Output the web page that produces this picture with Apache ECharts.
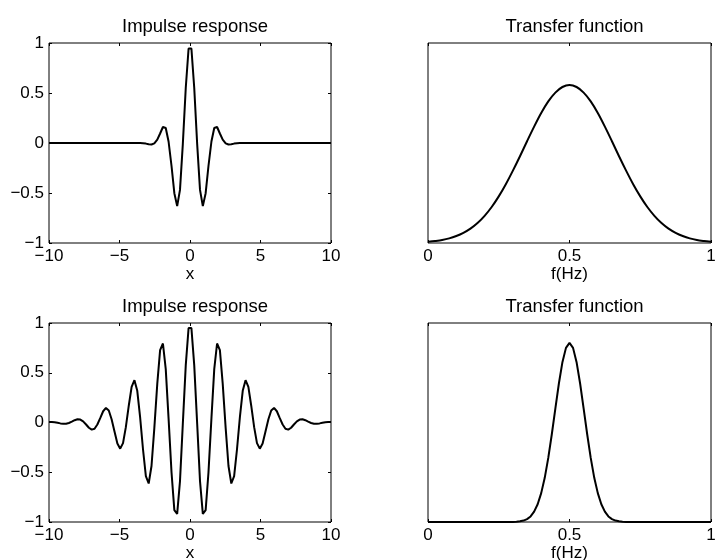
<!DOCTYPE html>
<html><head><meta charset="utf-8">
<script src="https://cdn.jsdelivr.net/npm/echarts@6/dist/echarts.min.js"></script>
<style>html,body{margin:0;padding:0;background:#fff}#c{width:715px;height:560px}</style>
</head><body><div id="c"></div>
<script>
// ---- data ----
const impX = [-10.00,-9.80,-9.60,-9.39,-9.19,-8.99,-8.79,-8.59,-8.38,-8.18,-7.98,-7.78,-7.58,-7.37,-7.17,-6.97,-6.77,-6.57,-6.36,-6.16,-5.96,-5.76,-5.56,-5.35,-5.15,-4.95,-4.75,-4.55,-4.34,-4.14,-3.94,-3.74,-3.54,-3.33,-3.13,-2.93,-2.73,-2.53,-2.32,-2.12,-1.92,-1.72,-1.52,-1.31,-1.11,-0.91,-0.71,-0.51,-0.30,-0.10,
  0.10,0.30,0.51,0.71,0.91,1.11,1.31,1.52,1.72,1.92,2.12,2.32,2.53,2.73,2.93,3.13,3.33,3.54,3.74,3.94,4.14,4.34,4.55,4.75,4.95,5.15,5.35,5.56,5.76,5.96,6.16,6.36,6.57,6.77,6.97,7.17,7.37,7.58,7.78,7.98,8.18,8.38,8.59,8.79,8.99,9.19,9.39,9.60,9.80,10.00];

const impTopY = [0,0,0,0,0,0,0,0,0,0,0,0,0,0,0,0,0,0,0,0,0,0,0,0,0,0,0,0,0,0,0,0,0,
  -0.002,-0.006,-0.013,-0.015,-0.003,0.034,0.095,0.16,0.15,0.015,-0.230,-0.502,-0.631,-0.469,-0.014,0.553,0.945,
  0.945,0.553,-0.014,-0.469,-0.631,-0.502,-0.230,0.015,0.15,0.16,0.095,0.034,-0.003,-0.015,-0.013,-0.006,-0.002,
  0,0,0,0,0,0,0,0,0,0,0,0,0,0,0,0,0,0,0,0,0,0,0,0,0,0,0,0,0,0,0,0,0];

const impBotY = [0.004,0.004,0.002,-0.003,-0.009,-0.013,-0.012,-0.005,0.008,0.023,0.032,0.029,0.011,-0.020,-0.053,-0.072,-0.063,-0.020,0.046,0.113,0.146,0.121,0.033,-0.094,-0.211,-0.263,-0.207,-0.047,0.171,0.358,0.425,0.318,0.056,-0.274,-0.540,-0.613,-0.437,-0.056,0.391,0.728,0.794,0.537,0.042,-0.503,-0.880,-0.918,-0.589,-0.016,0.577,0.950,
  0.950,0.577,-0.016,-0.589,-0.918,-0.880,-0.503,0.042,0.537,0.794,0.728,0.391,-0.056,-0.437,-0.613,-0.540,-0.274,0.056,0.318,0.425,0.358,0.171,-0.047,-0.207,-0.263,-0.211,-0.094,0.033,0.121,0.146,0.113,0.046,-0.020,-0.063,-0.072,-0.053,-0.020,0.011,0.029,0.032,0.023,0.008,-0.005,-0.012,-0.013,-0.009,-0.003,0.002,0.004,0.004];

const tfTopF = [0,0.025,0.05,0.075,0.1,0.125,0.15,0.175,0.2,0.225,0.25,0.275,0.3,0.325,0.35,0.375,0.4,0.425,0.45,0.475,0.5,
  0.525,0.55,0.575,0.6,0.625,0.65,0.675,0.7,0.725,0.75,0.775,0.8,0.825,0.85,0.875,0.9,0.925,0.95,0.975,1];
const tfTopH = [0.006,0.010,0.015,0.023,0.035,0.051,0.072,0.100,0.136,0.180,0.233,0.294,0.362,0.434,0.509,0.582,0.650,0.708,0.752,0.780,0.790,
  0.780,0.752,0.708,0.650,0.582,0.509,0.434,0.362,0.294,0.233,0.180,0.136,0.100,0.072,0.051,0.035,0.023,0.015,0.010,0.006];

const tfBotF = [0,0.1,0.2,0.25,0.3,0.3125,0.325,0.3375,0.35,0.3625,0.375,0.3875,0.4,0.4125,0.425,0.4375,0.45,0.4625,0.475,0.4875,0.5,
  0.5125,0.525,0.5375,0.55,0.5625,0.575,0.5875,0.6,0.6125,0.625,0.6375,0.65,0.6625,0.675,0.6875,0.7,0.75,0.8,0.9,1];
const tfBotH = [0,0,0,0,0.0006,0.0015,0.0033,0.0072,0.0147,0.028,0.052,0.089,0.145,0.222,0.322,0.441,0.570,0.696,0.803,0.875,0.900,
  0.875,0.803,0.696,0.570,0.441,0.322,0.222,0.145,0.089,0.052,0.028,0.0147,0.0072,0.0033,0.0015,0.0006,0,0,0,0];

const titles = ['Impulse response','Transfer function','Impulse response','Transfer function'];
const xNames = ['x','f(Hz)','x','f(Hz)'];
const impTickLabels = {'-10':'\u221210','-5':'\u22125','0':'0','5':'5','10':'10'};
const impYTickLabels = {'-1':'\u22121','-0.5':'\u22120.5','0':'0','0.5':'0.5','1':'1'};
const tfTickLabels = {'0':'0','0.5':'0.5','1':'1'};

// ---- layout ----
const FONT = 'Liberation Sans, Arial, Helvetica, sans-serif';
const grids = [
  {left:49, top:43, width:282, height:200},
  {left:428, top:43, width:283, height:200},
  {left:49, top:323, width:282, height:199},
  {left:428, top:323, width:283, height:199}
];
const isImp = [true,false,true,false];

const xAxes = [], yAxes = [], series = [], titleOpts = [];
const tickStyle = {show:true, inside:true, length:3, lineStyle:{color:'#000', width:1}};
const noLine = {show:false, onZero:false};
grids.forEach((g, i) => {
  const imp = isImp[i];
  const xr = imp ? {min:-10, max:10, interval:5} : {min:0, max:1, interval:0.5};
  const yr = imp ? {min:-1, max:1, interval:0.5} : {min:0, max:1, interval:0.5};
  xAxes.push(Object.assign({
    type:'value', gridIndex:i, position:'bottom',
    name: xNames[i], nameLocation:'middle', nameGap:22,
    nameTextStyle:{color:'#000', fontSize:17, fontFamily:FONT, verticalAlign:'top'},
    axisLine: noLine, splitLine:{show:false},
    axisTick: tickStyle,
    axisLabel:{show:true, color:'#000', fontSize:17, fontFamily:FONT, margin:5,
      showMinLabel:true, showMaxLabel:true,
      formatter: v => (imp ? impTickLabels : tfTickLabels)[String(v)] ?? String(v)}
  }, xr));
  xAxes.push(Object.assign({
    type:'value', gridIndex:i, position:'top',
    axisLine: noLine, splitLine:{show:false},
    axisTick: tickStyle, axisLabel:{show:false}
  }, xr));
  yAxes.push(Object.assign({
    type:'value', gridIndex:i, position:'left',
    axisLine: noLine, splitLine:{show:false},
    axisTick: imp ? tickStyle : {show:false},
    axisLabel:{show:imp, color:'#000', fontSize:17, fontFamily:FONT, margin:5,
      showMinLabel:true, showMaxLabel:true,
      formatter: v => impYTickLabels[String(v)] ?? String(v)}
  }, yr));
  yAxes.push(Object.assign({
    type:'value', gridIndex:i, position:'right',
    axisLine: noLine, splitLine:{show:false},
    axisTick: imp ? tickStyle : {show:false}, axisLabel:{show:false}
  }, yr));
  titleOpts.push({
    text: titles[i], left: g.left + g.width/2, top: g.top - 31, textAlign:'center',
    textStyle:{color:'#000', fontSize:18.5, fontWeight:'normal', fontFamily:FONT}
  });
});

function pairs(xs, ys){ return xs.map((x,k)=>[x, ys[k]]); }
const curves = [pairs(impX, impTopY), pairs(tfTopF, tfTopH), pairs(impX, impBotY), pairs(tfBotF, tfBotH)];
curves.forEach((d, i) => {
  series.push({
    type:'line', xAxisIndex: 2*i, yAxisIndex: 2*i, data: d,
    showSymbol:false, symbol:'none', smooth: i === 1 ? 0.3 : false,
    lineStyle:{color:'#000', width:2}, silent:true, clip:true
  });
});

const chart = echarts.init(document.getElementById('c'), null, {renderer:'canvas'});
chart.setOption({
  backgroundColor:'#fff',
  animation:false,
  title: titleOpts,
  grid: grids.map(g => Object.assign({show:true, borderColor:'#000', borderWidth:1, backgroundColor:'transparent', containLabel:false, outerBoundsMode:'none'}, g)),
  xAxis: xAxes,
  yAxis: yAxes,
  series: series
});
</script></body></html>
